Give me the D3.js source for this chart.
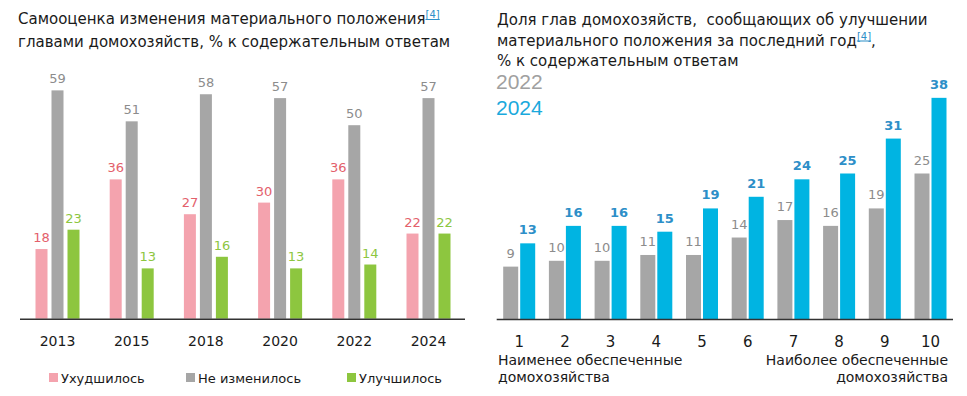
<!DOCTYPE html>
<html>
<head>
<meta charset="utf-8">
<script src="https://cdn.jsdelivr.net/npm/d3@7"></script>
<style>
  body { margin: 0; background: #fff; }
  svg { display: block; font-family: "DejaVu Sans", Verdana, sans-serif; }
</style>
</head>
<body>
<div id="chart"></div>
<script>
// left chart data
var years = ["2013", "2015", "2018", "2020", "2022", "2024"];
var seriesNames = ["Ухудшилось", "Не изменилось", "Улучшилось"];
var worse = [18, 36, 27, 30, 36, 22];
var same = [59, 51, 58, 57, 50, 57];
var better = [23, 13, 16, 13, 14, 22];

// right chart data
var deciles = ["1", "2", "3", "4", "5", "6", "7", "8", "9", "10"];
var decileYears = ["2022", "2024"];
var improved2022 = [9, 10, 10, 11, 11, 14, 17, 16, 19, 25];
var improved2024 = [13, 16, 16, 15, 19, 21, 24, 25, 31, 38];

var barColors = ["#f4a3ae", "#a6a6a6", "#8dc63f"];
var labelColors = ["#e3606b", "#8c8c8c", "#8dc63f"];
var rightBar = ["#a6a6a6", "#00b4e2"];
var rightLabel = ["#8c8c8c", "#2d8fc8"];

var svg = d3.select("#chart")
  .append("svg")
    .attr("width", 967)
    .attr("height", 396);

// ---------- left chart ----------
var left = svg.append("g");
var base1 = 318.7;

var x0 = d3.scaleBand().domain(years).range([20.4, 465.6]);
var x1 = d3.scaleBand().domain(seriesNames).range([-24, 24])
  .paddingInner(0.25).paddingOuter(0.125);
var y1 = d3.scaleLinear().domain([0, 60]).range([base1, base1 - 232.2]);

var rows = [];
years.forEach(function (yr, i) {
  [worse, same, better].forEach(function (arr, s) {
    rows.push({year: yr, s: s, v: arr[i]});
  });
});

left.append("text")
  .attr("x", 18).attr("y", 24)
  .attr("font-size", 15).attr("fill", "#1a1a1a")
  .text("Самооценка изменения материального положения")
  .append("tspan").attr("dy", -6).attr("font-size", 10)
    .attr("fill", "#2d8fc8").attr("text-decoration", "underline").text("[4]");
left.append("text")
  .attr("x", 18).attr("y", 47)
  .attr("font-size", 15).attr("fill", "#1a1a1a")
  .text("главами домохозяйств, % к содержательным ответам");

var g1 = left.append("g");
g1.selectAll("rect")
  .data(rows)
  .enter()
  .append("rect")
    .attr("x", function (d) { return x0(d.year) + x0.bandwidth() / 2 + x1(seriesNames[d.s]); })
    .attr("y", function (d) { return y1(d.v); })
    .attr("width", x1.bandwidth())
    .attr("height", function (d) { return base1 - y1(d.v); })
    .attr("fill", function (d) { return barColors[d.s]; });

g1.selectAll("text.val")
  .data(rows)
  .enter()
  .append("text")
    .attr("class", "val")
    .attr("x", function (d) { return x0(d.year) + x0.bandwidth() / 2 + x1(seriesNames[d.s]) + x1.bandwidth() / 2; })
    .attr("y", function (d) { return y1(d.v) - 7; })
    .attr("text-anchor", "middle")
    .attr("font-size", 13)
    .attr("fill", function (d) { return labelColors[d.s]; })
    .text(function (d) { return d.v; });

var ax1 = left.append("g")
  .attr("transform", "translate(0," + base1 + ")")
  .call(d3.axisBottom(x0).tickSize(0).tickPadding(17));
ax1.select(".domain").attr("d", "M20,0.5H465").attr("stroke", "#333").attr("stroke-width", 1.5);
ax1.selectAll("text").attr("font-size", 14).attr("fill", "#1a1a1a")
  .attr("font-family", "DejaVu Sans");

// legend
var legX = [49, 186, 347];
var leg = left.selectAll("g.leg")
  .data(seriesNames)
  .enter()
  .append("g")
    .attr("transform", function (d, i) { return "translate(" + legX[i] + ",373)"; });
leg.append("rect").attr("width", 9).attr("height", 9)
  .attr("fill", function (d, i) { return barColors[i]; });
leg.append("text").attr("x", 12).attr("y", 9.5)
  .attr("font-size", 13).attr("fill", "#1a1a1a")
  .text(function (d) { return d; });

// ---------- right chart ----------
var right = svg.append("g");
var base2 = 319;

var xd = d3.scaleBand().domain(deciles).range([496.35, 953.35]);
var xs = d3.scaleBand().domain(decileYears).range([-16, 16]).paddingInner(2 / 17);
var y2 = d3.scaleLinear().domain([0, 40]).range([base2, base2 - 232.8]);

var rows2 = [];
deciles.forEach(function (dc, i) {
  rows2.push({dec: dc, s: 0, v: improved2022[i]});
  rows2.push({dec: dc, s: 1, v: improved2024[i]});
});

var titleLines = [
  "Доля глав домохозяйств,  сообщающих об улучшении",
  "материального положения за последний год",
  "% к содержательным ответам"
];
right.selectAll("text.title")
  .data(titleLines)
  .enter()
  .append("text")
    .attr("class", "title")
    .attr("x", 497)
    .attr("y", function (d, i) { return 25 + i * 20.5; })
    .attr("font-size", 15).attr("fill", "#1a1a1a")
    .style("white-space", "pre")
    .text(function (d) { return d; });
right.selectAll("text.title").filter(function (d, i) { return i === 1; })
  .append("tspan").attr("dy", -6).attr("font-size", 10)
    .attr("fill", "#2d8fc8").attr("text-decoration", "underline").text("[4]");
right.selectAll("text.title").filter(function (d, i) { return i === 1; })
  .append("tspan").attr("dy", 6).text(",");

right.selectAll("text.yr")
  .data(decileYears)
  .enter()
  .append("text")
    .attr("class", "yr")
    .attr("x", 496)
    .attr("y", function (d, i) { return 89 + i * 26; })
    .attr("font-size", 21)
    .attr("font-family", "Liberation Sans, Arial, sans-serif")
    .attr("fill", function (d, i) { return i ? "#1aa9dc" : "#a0a0a0"; })
    .text(function (d) { return d; });

var g2 = right.append("g");
g2.selectAll("rect")
  .data(rows2)
  .enter()
  .append("rect")
    .attr("x", function (d) { return xd(d.dec) + xd.bandwidth() / 2 + xs(decileYears[d.s]); })
    .attr("y", function (d) { return y2(d.v); })
    .attr("width", xs.bandwidth())
    .attr("height", function (d) { return base2 - y2(d.v); })
    .attr("fill", function (d) { return rightBar[d.s]; });

g2.selectAll("text.val")
  .data(rows2)
  .enter()
  .append("text")
    .attr("class", "val")
    .attr("x", function (d) { return xd(d.dec) + xd.bandwidth() / 2 + xs(decileYears[d.s]) + xs.bandwidth() / 2; })
    .attr("y", function (d) { return y2(d.v) - 9; })
    .attr("text-anchor", "middle")
    .attr("font-size", 13)
    .attr("font-weight", function (d) { return d.s ? "bold" : "normal"; })
    .attr("fill", function (d) { return rightLabel[d.s]; })
    .text(function (d) { return d.v; });

var ax2 = right.append("g")
  .attr("transform", "translate(0," + base2 + ")")
  .call(d3.axisBottom(xd).tickSize(0).tickPadding(17));
ax2.select(".domain").attr("d", "M496.7,0.5H953").attr("stroke", "#333").attr("stroke-width", 1.5);
ax2.selectAll("text").attr("font-size", 15).attr("fill", "#1a1a1a")
  .attr("font-family", "DejaVu Sans");

var notes = [
  {x: 498, anchor: "start", lines: ["Наименее обеспеченные", "домохозяйства"]},
  {x: 948, anchor: "end", lines: ["Наиболее обеспеченные", "домохозяйства"]}
];
notes.forEach(function (n) {
  right.selectAll(null)
    .data(n.lines)
    .enter()
    .append("text")
      .attr("x", n.x)
      .attr("y", function (d, i) { return 365 + i * 16.5; })
      .attr("text-anchor", n.anchor)
      .attr("font-size", 14).attr("fill", "#1a1a1a")
      .text(function (d) { return d; });
});
</script>
</body>
</html>
